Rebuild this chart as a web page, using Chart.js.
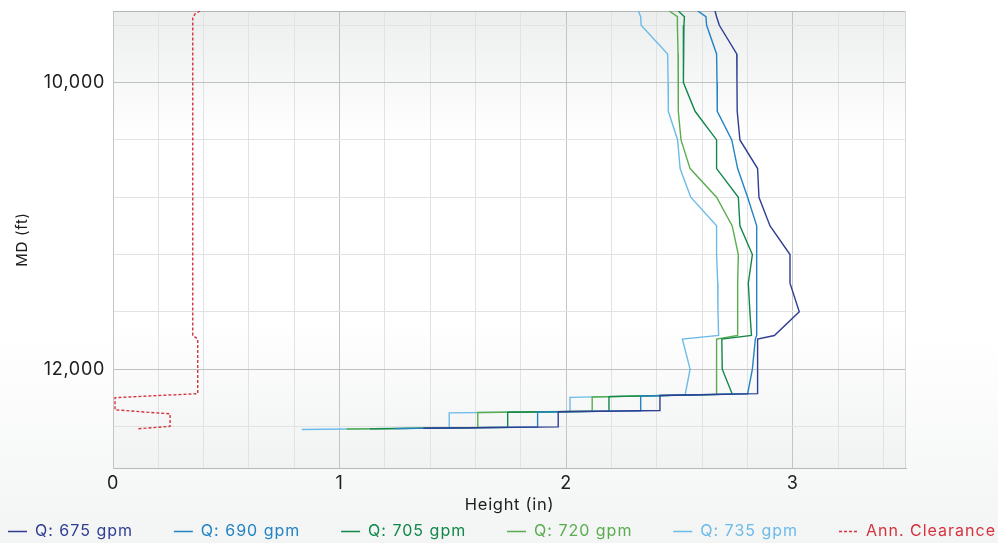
<!DOCTYPE html>
<html>
<head>
<meta charset="utf-8">
<script src="https://cdn.jsdelivr.net/npm/chart.js@4.4.1/dist/chart.umd.min.js"></script>
<style>
  html, body { margin: 0; padding: 0; background: #ffffff; }
  #wrap { width: 998px; height: 543px; }
</style>
</head>
<body>
<div id="wrap"><canvas id="chart" width="998" height="543"></canvas></div>
<script>
// Measured depth stations shared by all flow-rate cases (ft)
const mdStations = [9500, 9540, 9600, 9800, 10000, 10200, 10400, 10600, 10800, 11000, 11200, 11400, 11600, 11765, 11790, 12000];

// Cuttings bed height at each station (in)
const height675 = [2.657, 2.664, 2.676, 2.753, 2.754, 2.755, 2.767, 2.845, 2.851, 2.900, 2.988, 2.988, 3.029, 2.919, 2.845, 2.845];
const height690 = [2.581, 2.617, 2.620, 2.664, 2.666, 2.667, 2.731, 2.757, 2.801, 2.841, 2.841, 2.841, 2.841, 2.841, 2.835, 2.822];
const height705 = [2.495, 2.522, 2.520, 2.518, 2.517, 2.569, 2.664, 2.664, 2.760, 2.767, 2.822, 2.804, 2.811, 2.818, 2.687, 2.689];
const height720 = [2.455, 2.491, 2.491, 2.494, 2.495, 2.495, 2.507, 2.547, 2.664, 2.733, 2.760, 2.757, 2.757, 2.757, 2.664, 2.664];
const height735 = [2.319, 2.329, 2.331, 2.448, 2.450, 2.451, 2.492, 2.503, 2.550, 2.664, 2.664, 2.669, 2.670, 2.673, 2.513, 2.547];

// Stepped section near the bottom of each case: depths (ft) and heights (in)
const tailMd675 = [12171, 12184, 12289, 12297, 12403, 12413];
const tailMd690 = [12172, 12187, 12291, 12299, 12404, 12415];
const tailMd705 = [12174, 12192, 12293, 12301, 12406, 12417];
const tailMd720 = [12176, 12194, 12294, 12303, 12408, 12418];
const tailMd735 = [12181, 12197, 12296, 12305, 12410, 12421];
const tailHeight675 = [2.845, 2.414, 2.414, 1.965, 1.965, 1.370];
const tailHeight690 = [2.801, 2.329, 2.329, 1.874, 1.874, 1.245];
const tailHeight705 = [2.733, 2.189, 2.189, 1.742, 1.742, 1.134];
const tailHeight720 = [2.664, 2.115, 2.115, 1.610, 1.610, 1.031];
const tailHeight735 = [2.525, 2.017, 2.017, 1.484, 1.484, 0.833];

// Annular clearance profile
const clearanceMd = [9500, 9520, 9550, 11765, 11790, 12171, 12199, 12284, 12312, 12399, 12417];
const clearanceHeight = [0.384, 0.362, 0.352, 0.352, 0.374, 0.374, 0.009, 0.009, 0.252, 0.252, 0.105];

// Series labels and axis ticks
const seriesLabels = ['Q: 675 gpm', 'Q: 690 gpm', 'Q: 705 gpm', 'Q: 720 gpm', 'Q: 735 gpm', 'Ann. Clearance'];
const xTickValues = [0, 0.2, 0.4, 0.6, 0.8, 1, 1.2, 1.4, 1.6, 1.8, 2, 2.2, 2.4, 2.6, 2.8, 3, 3.2, 3.4];
const yTickValues = [9600, 10000, 10400, 10800, 11200, 11600, 12000, 12400];

const FONT = 'Inter, "DejaVu Sans", sans-serif';
const COLORS = ['#2f3e93', '#2383c4', '#11884a', '#5aad4f', '#6cbbe8', '#d4333e'];

function toPoints(mds, hs, tailMds, tailHs) {
  const pts = mds.map((md, i) => ({ x: hs[i], y: md }));
  if (tailMds) tailMds.forEach((md, i) => pts.push({ x: tailHs[i], y: md }));
  return pts;
}

const seriesData = [
  toPoints(mdStations, height675, tailMd675, tailHeight675),
  toPoints(mdStations, height690, tailMd690, tailHeight690),
  toPoints(mdStations, height705, tailMd705, tailHeight705),
  toPoints(mdStations, height720, tailMd720, tailHeight720),
  toPoints(mdStations, height735, tailMd735, tailHeight735),
  toPoints(clearanceMd, clearanceHeight)
];

const datasets = seriesData.map((pts, i) => ({
  label: seriesLabels[i],
  data: pts,
  showLine: true,
  borderColor: COLORS[i],
  backgroundColor: COLORS[i],
  borderWidth: 1.4,
  borderDash: i === 5 ? [3, 2] : [],
  pointRadius: 0,
  pointHoverRadius: 0,
  tension: 0,
  fill: false
}));

const isWhole = v => Math.abs(v - Math.round(v)) < 1e-6;

// Drop the label overhang padding so the plot box keeps its set position
const noOverhang = s => {
  s.paddingTop = 0; s.paddingBottom = 0; s.paddingLeft = 0; s.paddingRight = 0;
};

// Soft grey wash behind the page and the plot area
const backdrop = {
  id: 'backdrop',
  beforeDraw(chart) {
    const { ctx, chartArea: a, width, height } = chart;
    ctx.save();
    const g = ctx.createLinearGradient(0, 0, 0, height);
    g.addColorStop(0, '#ffffff');
    g.addColorStop(0.62, '#ffffff');
    g.addColorStop(1, '#f3f4f4');
    ctx.fillStyle = g;
    ctx.fillRect(0, 0, width, height);
    const p = ctx.createLinearGradient(0, a.top, 0, a.bottom);
    p.addColorStop(0, '#eceeee');
    p.addColorStop(0.07, '#f1f2f2');
    p.addColorStop(0.28, '#ffffff');
    p.addColorStop(0.68, '#ffffff');
    p.addColorStop(1, '#f1f2f2');
    ctx.fillStyle = p;
    ctx.fillRect(a.left, a.top, a.right - a.left, a.bottom - a.top);
    ctx.restore();
    // slightly open tracking for all axis text
    ctx.letterSpacing = '0.7px';
  }
};

// Top and right edges of the plot frame
const frame = {
  id: 'frame',
  beforeDatasetsDraw(chart) {
    const { ctx, chartArea: a } = chart;
    ctx.save();
    ctx.lineWidth = 1;
    ctx.strokeStyle = '#b4b6b6';
    ctx.beginPath();
    ctx.moveTo(a.left, a.top + 0.5);
    ctx.lineTo(a.right, a.top + 0.5);
    ctx.stroke();
    ctx.strokeStyle = '#d6d8d8';
    ctx.beginPath();
    ctx.moveTo(a.right - 0.5, a.top);
    ctx.lineTo(a.right - 0.5, a.bottom);
    ctx.stroke();
    ctx.restore();
  }
};

// Series key along the bottom edge, text tinted like each line
const seriesKey = {
  id: 'seriesKey',
  afterDraw(chart) {
    const ctx = chart.ctx;
    const dsList = chart.data.datasets;
    ctx.save();
    ctx.font = '16px ' + FONT;
    ctx.letterSpacing = '1px';
    const glyph = 19, gap = 8, left = 8, right = 2;
    const widths = dsList.map(ds => glyph + gap + ctx.measureText(ds.label).width);
    const sum = widths.reduce((s, w) => s + w, 0);
    const spacing = (chart.width - left - right - sum) / (dsList.length - 1);
    let x = left;
    const y = 531;
    dsList.forEach((ds, i) => {
      ctx.strokeStyle = ds.borderColor;
      ctx.lineWidth = 1.5;
      ctx.setLineDash(ds.borderDash || []);
      ctx.beginPath();
      ctx.moveTo(x, y + 0.5);
      ctx.lineTo(x + glyph, y + 0.5);
      ctx.stroke();
      ctx.setLineDash([]);
      ctx.fillStyle = ds.borderColor;
      ctx.textBaseline = 'middle';
      ctx.textAlign = 'left';
      ctx.fillText(ds.label, x + glyph + gap, y);
      x += widths[i] + spacing;
    });
    ctx.restore();
  }
};

new Chart(document.getElementById('chart'), {
  type: 'scatter',
  data: { datasets },
  plugins: [backdrop, frame, seriesKey],
  options: {
    responsive: false,
    devicePixelRatio: 1,
    animation: false,
    layout: { padding: { top: 11, right: 92, bottom: 0, left: 0 } },
    plugins: {
      legend: { display: false },
      tooltip: { enabled: false }
    },
    scales: {
      x: {
        type: 'linear',
        min: 0,
        max: 3.5,
        afterBuildTicks: s => { s.ticks = xTickValues.map(v => ({ value: v })); },
        afterFit: s => { s.height = 75; noOverhang(s); },
        ticks: {
          autoSkip: false,
          maxRotation: 0,
          padding: 5,
          color: '#1d1d1d',
          font: { family: FONT, size: 18 },
          callback: v => (isWhole(v) ? String(Math.round(v)) : '')
        },
        grid: {
          drawTicks: false,
          lineWidth: 1,
          color: c => (c.tick && isWhole(c.tick.value) ? '#c3c5c5' : '#e1e2e2')
        },
        border: { display: true, color: '#b9bbbb', width: 1 },
        title: {
          display: true,
          text: 'Height (in)',
          color: '#1d1d1d',
          font: { family: FONT, size: 16.5 },
          padding: { top: 0, bottom: 28 }
        }
      },
      y: {
        type: 'linear',
        reverse: true,
        min: 9500,
        max: 12690,
        afterBuildTicks: s => { s.ticks = yTickValues.map(v => ({ value: v })); },
        afterFit: s => { s.width = 113; noOverhang(s); },
        ticks: {
          autoSkip: false,
          padding: 8,
          color: '#1d1d1d',
          font: { family: FONT, size: 18 },
          callback: v => (v % 2000 === 0 ? v.toLocaleString('en-US') : '')
        },
        grid: {
          drawTicks: false,
          lineWidth: 1,
          color: c => (c.tick && c.tick.value % 2000 === 0 ? '#bfc1c1' : '#e1e2e2')
        },
        border: { display: true, color: '#c3c5c5', width: 1 },
        title: {
          display: true,
          text: 'MD (ft)',
          color: '#1d1d1d',
          font: { family: FONT, size: 15 },
          padding: { top: 13, bottom: 0 }
        }
      }
    }
  }
});
</script>
</body>
</html>
